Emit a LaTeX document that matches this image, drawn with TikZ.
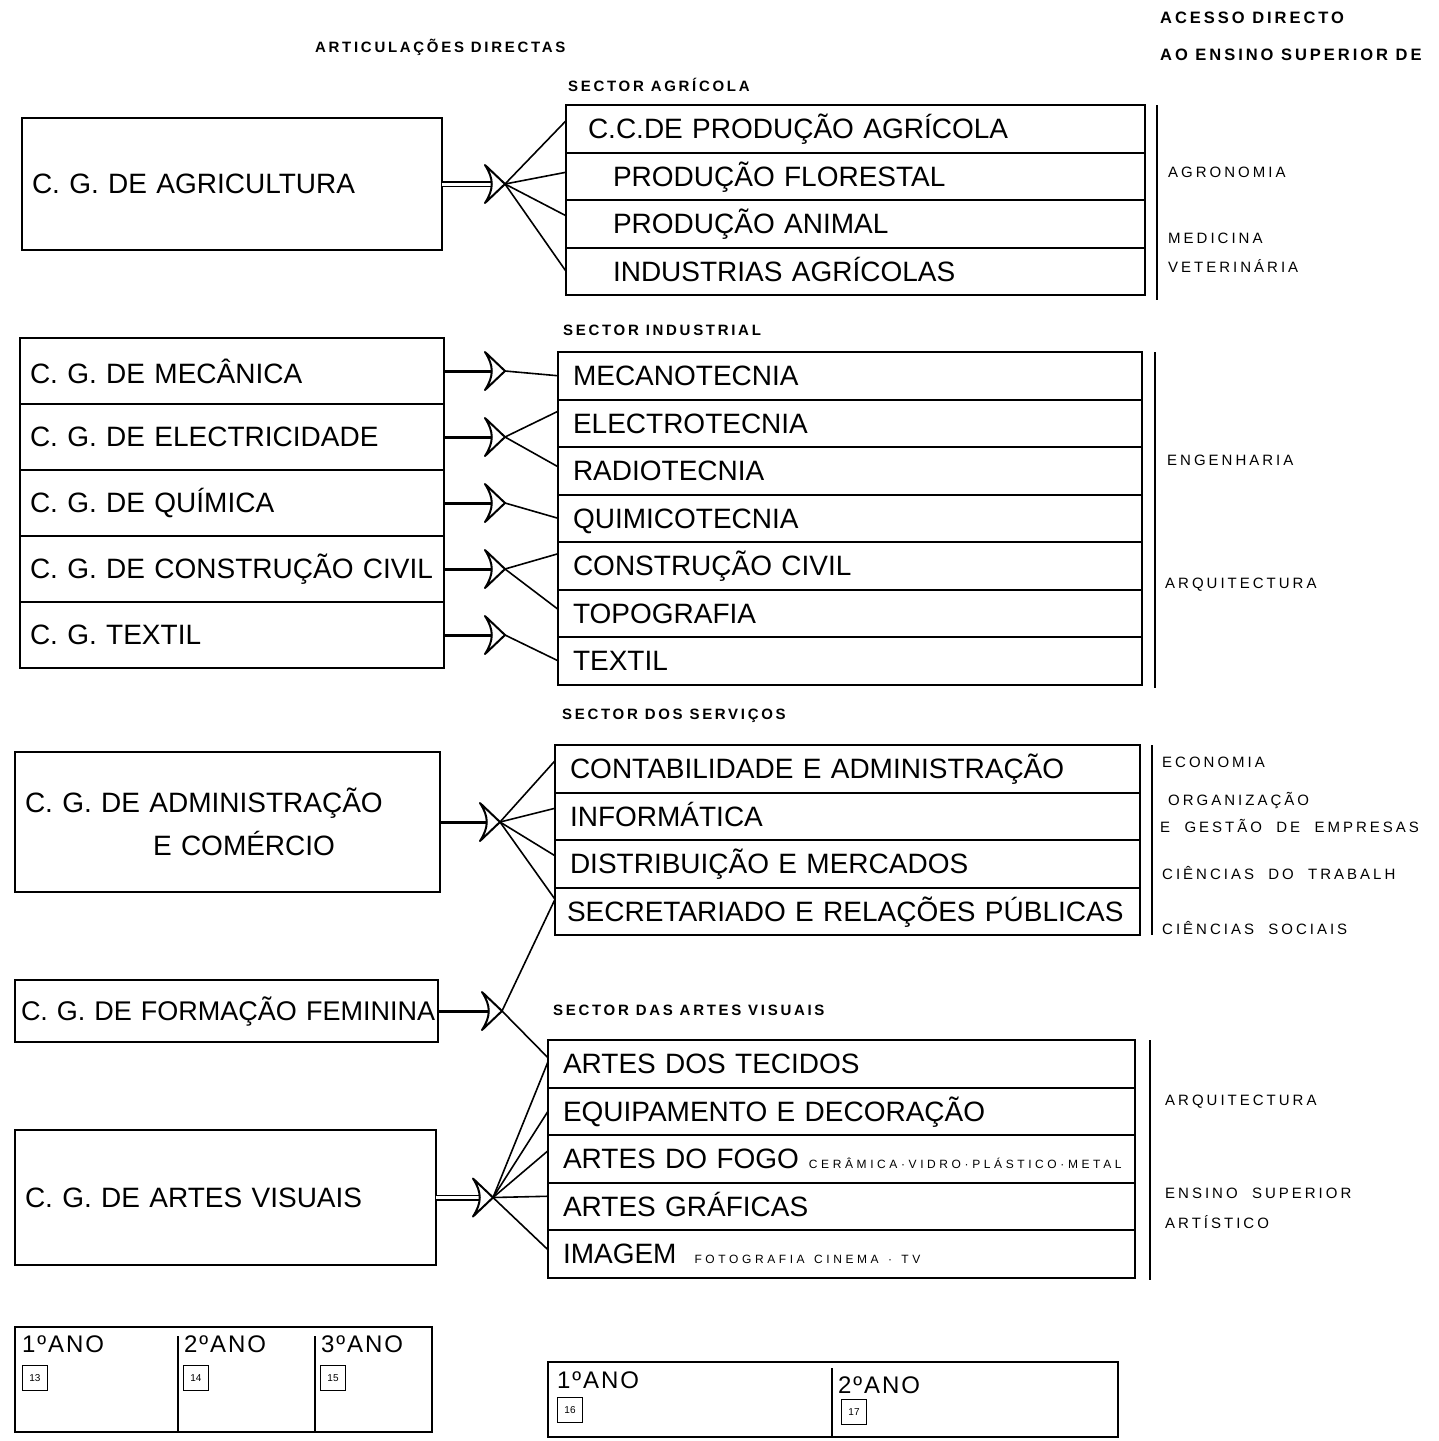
\documentclass[tikz,border=0pt]{standalone}
\usepackage{fontspec}
\setmainfont{Liberation Sans}
\newfontfamily\tagfont[LetterSpace=18]{Liberation Sans}
\newfontfamily\labelfont[LetterSpace=20, WordSpace=2]{Liberation Sans}
\newfontfamily\subfont[LetterSpace=30]{Liberation Sans}
\newfontfamily\yearfont[LetterSpace=8]{Liberation Sans}
\usetikzlibrary{positioning}

\newcommand{\forkhead}[1]{\draw[head] ([xshift=-20pt,yshift=19pt]#1) -- (#1) -- ([xshift=-20pt,yshift=-19pt]#1) .. controls ([xshift=-11pt,yshift=-5pt]#1) and ([xshift=-11pt,yshift=5pt]#1) .. cycle;}

\tikzset{
  cgbox/.style={draw, line width=2pt, outer sep=0pt, anchor=north west, inner xsep=10pt, align=left, font=\fontsize{28}{43}\selectfont},
  rowbox/.style={draw, line width=2pt, outer sep=0pt, minimum height=47.5pt, inner xsep=15pt, text height=20pt, text depth=0pt, align=left, font=\fontsize{28}{34}\selectfont},
  agrrow/.style={rowbox, text width=535pt, inner xsep=22pt},
  indrow/.style={rowbox, text width=554pt},
  serrow/.style={rowbox, text width=555pt},
  artrow/.style={rowbox, text width=557pt},
  sector/.style={anchor=west, inner sep=0pt, font=\tagfont\bfseries\fontsize{15}{18}\selectfont},
  access/.style={anchor=west, inner sep=0pt, font=\labelfont\fontsize{15}{18}\selectfont},
  year/.style={anchor=west, inner sep=0pt, font=\yearfont\fontsize{24}{28}\selectfont},
  agebox/.style={draw, line width=1.5pt, minimum size=25pt, inner sep=0pt, font=\fontsize{10}{12}\selectfont},
  shaft/.style={line width=3pt},
  twin/.style={double, double distance=3pt, line width=1.5pt},
  head/.style={line width=2pt, line join=round},
  fan/.style={line width=1.6pt},
  bar/.style={line width=2.5pt},
  frame/.style={line width=2pt},
}

\begin{document}
\begin{tikzpicture}[x=1pt, y=-1pt]
\useasboundingbox (0,0) rectangle (1439,1441);

% headings
\node[sector] (hart) at (315,47) {ARTICULAÇÕES DIRECTAS};
\node[sector, font=\tagfont\bfseries\fontsize{16.5}{20}\selectfont] (hacc) at (1160,18) {ACESSO DIRECTO};
\node[sector, font=\tagfont\bfseries\fontsize{16.5}{20}\selectfont] (hsup) at (1160,55) {AO ENSINO SUPERIOR DE};

% sector agricola
\node[sector] (sagr) at (568,85) {SECTOR AGRÍCOLA};
\node[agrrow, anchor=north west] (ccpa) at (566,105) {C.C.DE PRODUÇÃO AGRÍCOLA};
\node[agrrow, below=0pt of ccpa] (pflo) {\hspace*{25pt}PRODUÇÃO FLORESTAL};
\node[agrrow, below=0pt of pflo] (pani) {\hspace*{25pt}PRODUÇÃO ANIMAL};
\node[agrrow, below=0pt of pani] (iagr) {\hspace*{25pt}INDUSTRIAS AGRÍCOLAS};

\node[cgbox, minimum height=132pt, text width=400pt] (agr) at (22,118) {C. G. DE AGRICULTURA};
\coordinate[right=63pt of agr.east] (ta);
\draw[twin] (agr.east) -- ([xshift=-14pt]ta);
\forkhead{ta}
\draw[fan] (ta) -- ([yshift=8pt]ccpa.west);
\draw[fan] (ta) -- ([yshift=4pt]pflo.west);
\draw[fan] (ta) -- ([yshift=8pt]pani.west);
\draw[fan] (ta) -- (iagr.west);

\draw[bar] (1157,105) -- (1157,300);
\node[access] (lagro) at (1168,172) {AGRONOMIA};
\node[access] (lmed) at (1168,238) {MEDICINA};
\node[access] (lvet) at (1168,266) {VETERINÁRIA};

% sector industrial
\node[sector] (sind) at (563,330) {SECTOR INDUSTRIAL};
\node[indrow, anchor=north west] (mtec) at (558,352) {MECANOTECNIA};
\node[indrow, below=0pt of mtec] (etec) {ELECTROTECNIA};
\node[indrow, below=0pt of etec] (rtec) {RADIOTECNIA};
\node[indrow, below=0pt of rtec] (qtec) {QUIMICOTECNIA};
\node[indrow, below=0pt of qtec] (ccivil) {CONSTRUÇÃO CIVIL};
\node[indrow, below=0pt of ccivil] (topo) {TOPOGRAFIA};
\node[indrow, below=0pt of topo] (tex) {TEXTIL};

\node[cgbox, minimum height=66pt, text width=404pt] (mec) at (20,338) {C. G. DE MECÂNICA};
\node[cgbox, minimum height=66pt, text width=404pt, below=0pt of mec] (ele) {C. G. DE ELECTRICIDADE};
\node[cgbox, minimum height=66pt, text width=404pt, below=0pt of ele] (qui) {C. G. DE QUÍMICA};
\node[cgbox, minimum height=66pt, text width=404pt, below=0pt of qui] (civ) {C. G. DE CONSTRUÇÃO CIVIL};
\node[cgbox, minimum height=66pt, text width=404pt, below=0pt of civ] (txt) {C. G. TEXTIL};

\coordinate[right=61pt of mec.east] (tm);
\draw[shaft] (mec.east) -- ([xshift=-14pt]tm);
\forkhead{tm}
\draw[fan] (tm) -- (mtec.west);

\coordinate[right=61pt of ele.east] (te);
\draw[shaft] (ele.east) -- ([xshift=-14pt]te);
\forkhead{te}
\draw[fan] (te) -- ([yshift=12pt]etec.west);
\draw[fan] (te) -- ([yshift=4pt]rtec.west);

\coordinate[right=61pt of qui.east] (tq);
\draw[shaft] (qui.east) -- ([xshift=-14pt]tq);
\forkhead{tq}
\draw[fan] (tq) -- (qtec.west);

\coordinate[right=61pt of civ.east] (tc);
\draw[shaft] (civ.east) -- ([xshift=-14pt]tc);
\forkhead{tc}
\draw[fan] (tc) -- ([yshift=12pt]ccivil.west);
\draw[fan] (tc) -- ([yshift=4pt]topo.west);

\coordinate[right=61pt of txt.east] (tt);
\draw[shaft] (txt.east) -- ([xshift=-14pt]tt);
\forkhead{tt}
\draw[fan] (tt) -- (tex.west);

\draw[bar] (1155,352) -- (1155,688);
\node[access] (leng) at (1167,460) {ENGENHARIA};
\node[access] (larq) at (1165,585) {ARQUITECTURA};

% sector dos servicos
\node[sector] (sser) at (562,716) {SECTOR DOS SERVIÇOS};
\node[serrow, anchor=north west] (cont) at (555,745) {CONTABILIDADE E ADMINISTRAÇÃO};
\node[serrow, below=0pt of cont] (info) {INFORMÁTICA};
\node[serrow, below=0pt of info] (dist) {DISTRIBUIÇÃO E MERCADOS};
\node[serrow, below=0pt of dist, inner xsep=12pt, text width=561pt] (secr) {\mbox{SECRETARIADO E RELAÇÕES PÚBLICAS}};

\node[cgbox, minimum height=140pt, text width=405pt] (adm) at (15,752) {C. G. DE ADMINISTRAÇÃO\\\hspace*{128pt}E COMÉRCIO};
\coordinate[right=60pt of adm.east] (ts);
\draw[shaft] (adm.east) -- ([xshift=-14pt]ts);
\forkhead{ts}
\draw[fan] (ts) -- ([yshift=8pt]cont.west);
\draw[fan] (ts) -- ([yshift=8pt]info.west);
\draw[fan] (ts) -- ([yshift=8pt]dist.west);
\draw[fan] (ts) -- ([yshift=12pt]secr.west);

\draw[bar] (1152,745) -- (1152,935);
\node[access] (leco) at (1162,762) {ECONOMIA};
\node[access] (lorg) at (1168,800) {ORGANIZAÇÃO};
\node[access] (lges) at (1160,826) {E GESTÃO DE EMPRESAS};
\node[access] (ltra) at (1162,873) {CIÊNCIAS DO TRABALH};
\node[access] (lsoc) at (1162,928) {CIÊNCIAS SOCIAIS};

% formacao feminina
\node[cgbox, minimum height=62pt, text width=411pt, inner xsep=6pt, font=\fontsize{27}{32}\selectfont] (fem) at (15,980) {\mbox{C. G. DE FORMAÇÃO FEMININA}};
\coordinate[right=64pt of fem.east] (tf);
\draw[shaft] (fem.east) -- ([xshift=-14pt]tf);
\forkhead{tf}
\draw[fan] (tf) -- ([yshift=12pt]secr.west);

% sector das artes visuais
\node[sector] (sart) at (553,1010) {SECTOR DAS ARTES VISUAIS};
\node[artrow, anchor=north west] (ates) at (548,1040) {ARTES DOS TECIDOS};
\node[artrow, below=0pt of ates] (equi) {EQUIPAMENTO E DECORAÇÃO};
\node[artrow, below=0pt of equi] (fogo) {\mbox{ARTES DO FOGO\hspace{10pt}{\subfont\fontsize{12}{14}\selectfont CERÂMICA·VIDRO·PLÁSTICO·METAL}}};
\node[artrow, below=0pt of fogo] (graf) {ARTES GRÁFICAS};
\node[artrow, below=0pt of graf] (imag) {\mbox{IMAGEM\hspace{18pt}{\subfont\fontsize{12}{14}\selectfont FOTOGRAFIA CINEMA · TV}}};

\draw[fan] (tf) -- ([yshift=6pt]ates.west);

\node[cgbox, minimum height=135pt, text width=401pt] (vis) at (15,1130) {C. G. DE ARTES VISUAIS};
\coordinate[right=57pt of vis.east] (tv);
\draw[twin] (vis.east) -- ([xshift=-14pt]tv);
\forkhead{tv}
\draw[fan] (tv) -- ([yshift=2pt]ates.west);
\draw[fan] (tv) -- (equi.west);
\draw[fan] (tv) -- ([yshift=8pt]fogo.west);
\draw[fan] (tv) -- ([yshift=10pt]graf.west);
\draw[fan] (tv) -- ([yshift=4pt]imag.west);

\draw[bar] (1150,1040) -- (1150,1280);
\node[access] (larq2) at (1165,1102) {ARQUITECTURA};
\node[access] (lens) at (1165,1193) {ENSINO SUPERIOR};
\node[access] (lart) at (1165,1222) {ARTÍSTICO};

% anos
\draw[frame] (15,1327) rectangle (432,1432);
\draw[frame] (178,1336) -- (178,1432);
\draw[frame] (315,1336) -- (315,1432);
\node[year] (y1) at (22,1344) {1ºANO};
\node[year] (y2) at (184,1344) {2ºANO};
\node[year] (y3) at (321,1344) {3ºANO};
\node[agebox] (a13) at (35,1378) {13};
\node[agebox] (a14) at (196,1378) {14};
\node[agebox] (a15) at (333,1378) {15};

\draw[frame] (548,1362) rectangle (1118,1437);
\draw[frame] (832,1368) -- (832,1437);
\node[year] (y4) at (557,1380) {1ºANO};
\node[year] (y5) at (838,1385) {2ºANO};
\node[agebox] (a16) at (570,1410) {16};
\node[agebox] (a17) at (854,1412) {17};
\end{tikzpicture}
\end{document}
